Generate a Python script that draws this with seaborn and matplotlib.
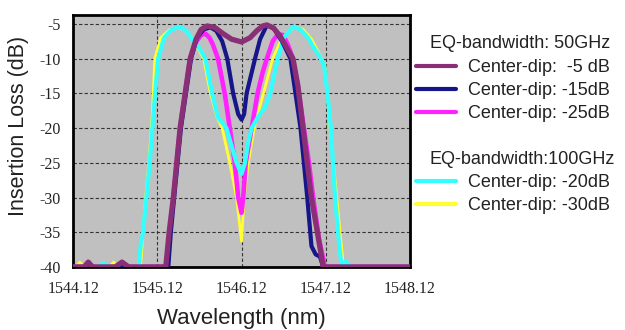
# Einfügedämpfung der Filter mit Mittel-Einbruch (50 GHz / 100 GHz)
import pandas as pd
import seaborn as sns
import matplotlib.pyplot as plt
from matplotlib.lines import Line2D

wl_5db = [1544.12, 1544.25, 1544.30, 1544.35, 1544.62, 1544.70, 1544.78, 1545.22, 1545.26, 1545.31,
          1545.35, 1545.39, 1545.45, 1545.51, 1545.58, 1545.64, 1545.71, 1545.80, 1545.90, 1546.00,
          1546.12, 1546.22, 1546.30, 1546.37, 1546.42, 1546.50, 1546.58, 1546.66, 1546.73, 1546.79,
          1546.85, 1546.90, 1546.95, 1547.02, 1547.09, 1548.12]
il_5db = [-40, -40, -39.3, -40, -40, -39.3, -40, -40, -35, -30,
          -25, -20, -15, -10, -7.2, -5.8, -5.3, -5.5, -6.4, -7.2,
          -7.6, -7.0, -6.0, -5.3, -5.15, -5.6, -6.8, -8.5, -10, -14,
          -20, -25, -30, -35, -40, -40]

wl_15db = [1544.12, 1545.25, 1545.28, 1545.32, 1545.36, 1545.40, 1545.46, 1545.52, 1545.59, 1545.67,
           1545.75, 1545.82, 1545.89, 1545.95, 1546.02, 1546.08, 1546.12, 1546.15, 1546.18, 1546.23,
           1546.28, 1546.34, 1546.42, 1546.50, 1546.60, 1546.70, 1546.76, 1546.82, 1546.90, 1546.95,
           1547.00, 1547.05, 1547.09, 1548.12]
il_15db = [-40, -40, -35, -30, -25, -20, -15, -10, -7.0, -5.8,
           -5.5, -6.0, -7.5, -10, -15, -18, -18.8, -18, -15, -12.5,
           -10, -7.2, -5.2, -5.6, -7.5, -10, -15, -20, -30, -37,
           -38.2, -38.5, -40, -40]

wl_25db = [1544.12, 1545.24, 1545.27, 1545.31, 1545.35, 1545.39, 1545.45, 1545.51, 1545.58, 1545.64,
           1545.69, 1545.74, 1545.78, 1545.84, 1545.92, 1545.98, 1546.04, 1546.08, 1546.12, 1546.14,
           1546.17, 1546.24, 1546.31, 1546.37, 1546.42, 1546.49, 1546.55, 1546.61, 1546.67, 1546.73,
           1546.79, 1546.86, 1546.92, 1546.97, 1547.04, 1547.11, 1548.12]
il_25db = [-40, -40, -35, -30, -25, -20, -15, -10, -7.6, -6.6,
           -6.4, -7.0, -8.0, -10, -15, -20, -25, -30, -32.2, -30,
           -25, -20, -15, -12, -10, -7.5, -6.5, -6.6, -8.0, -10,
           -14, -20, -25, -30, -36, -40, -40]

wl_20db = [1544.12, 1544.42, 1544.48, 1544.54, 1544.90, 1544.92, 1544.95, 1544.99, 1545.03, 1545.08,
           1545.13, 1545.20, 1545.29, 1545.39, 1545.48, 1545.56, 1545.62, 1545.69, 1545.77, 1545.84,
           1545.94, 1546.00, 1546.06, 1546.12, 1546.16, 1546.20, 1546.24, 1546.32, 1546.40, 1546.46,
           1546.55, 1546.62, 1546.73, 1546.82, 1546.91, 1546.98, 1547.04, 1547.10, 1547.14, 1547.18,
           1547.23, 1547.28, 1547.31, 1547.35, 1547.38, 1547.42, 1548.12]
il_20db = [-40, -40, -39.4, -40, -40, -37, -35, -30, -25, -17,
           -10, -7.0, -5.8, -5.4, -6.2, -7.8, -8.5, -10, -15, -18.5,
           -20, -22.5, -25, -26.6, -25, -22, -20, -18.3, -17, -15,
           -10, -7.0, -5.4, -5.8, -7.0, -8.5, -9.5, -11, -15, -20,
           -30, -37, -40, -39.2, -39.5, -40, -40]

wl_30db = [1544.12, 1544.16, 1544.20, 1544.25, 1544.55, 1544.60, 1544.65, 1544.92, 1544.95, 1544.98,
           1545.02, 1545.06, 1545.09, 1545.16, 1545.27, 1545.38, 1545.48, 1545.57, 1545.67, 1545.75,
           1545.83, 1545.89, 1545.98, 1546.06, 1546.12, 1546.15, 1546.20, 1546.27, 1546.38, 1546.49,
           1546.60, 1546.75, 1546.85, 1546.95, 1547.03, 1547.11, 1547.17, 1547.25, 1547.33, 1548.12]
il_30db = [-40, -40, -39.3, -40, -40, -39.3, -40, -40, -35, -30,
           -25, -18, -10, -7.0, -5.8, -5.5, -6.2, -7.8, -10, -15,
           -18.5, -20, -25, -30, -36.3, -30, -25, -20, -15, -10,
           -7.0, -5.4, -5.8, -7.2, -9.0, -11, -20, -30, -40, -40]

series_labels = ['Center-dip:  -5 dB', 'Center-dip: -15dB', 'Center-dip: -25dB',
                 'Center-dip: -20dB', 'Center-dip: -30dB']
group_labels = ['EQ-bandwidth: 50GHz', 'EQ-bandwidth:100GHz']
x_ticks = [1544.12, 1545.12, 1546.12, 1547.12, 1548.12]
y_ticks = [-5, -10, -15, -20, -25, -30, -35, -40]

farben = ['#8a2f76', '#16168a', '#ff22ff', '#33ffff', '#ffff33']
breiten = [3.8, 3.0, 3.3, 3.0, 2.0]

sns.set_style("white")
plt.rcParams['font.family'] = ['Liberation Sans', 'DejaVu Sans']

fig = plt.figure(figsize=(6.25, 3.3), dpi=100)
ax = fig.add_axes([0.117, 0.191, 0.539, 0.764])
ax.set_facecolor('#c0c0c0')

daten = [(wl_5db, il_5db), (wl_15db, il_15db), (wl_25db, il_25db), (wl_20db, il_20db), (wl_30db, il_30db)]
# Zeichenreihenfolge: gelb, magenta, cyan, blau, lila
reihenfolge = [4, 2, 3, 1, 0]
for i in reihenfolge:
    wl, il = daten[i]
    df = pd.DataFrame({'wl': wl, 'il': il})
    sns.lineplot(data=df, x='wl', y='il', ax=ax, color=farben[i], lw=breiten[i],
                 sort=False, estimator=None, zorder=3 + reihenfolge.index(i))

ax.set_xlim(1544.12, 1548.12)
ax.set_ylim(-40, -3.7)
ax.set_xticks(x_ticks)
ax.set_xticklabels([f'{t:.2f}' for t in x_ticks], family='Liberation Serif', fontsize=11.5, color='#222222')
ax.set_yticks(y_ticks)
ax.set_yticklabels([str(t) for t in y_ticks], family='Liberation Serif', fontsize=11.5, color='#222222')
ax.tick_params(axis='x', length=0, pad=10)
ax.tick_params(axis='y', length=0, pad=9)
ax.grid(True, color='#333333', linestyle=(0, (3, 2)), linewidth=0.8, zorder=1)
ax.set_axisbelow(True)
for s in ax.spines.values():
    s.set_color('black')
    s.set_linewidth(2)

ax.set_xlabel('Wavelength (nm)', fontsize=16, labelpad=8, color='#222222')
ax.set_ylabel('Insertion Loss (dB)', fontsize=15.5, color='#222222')
ax.yaxis.set_label_coords(-0.13, 0.56)

# Legende mit zwei Gruppen
handles = [Line2D([], [], color=farben[i], lw=3) for i in range(5)]
leg_opts = dict(frameon=False, fontsize=13, handlelength=2.2, handletextpad=0.7,
                labelspacing=0.32, borderpad=0, borderaxespad=0, loc='upper left')
leg1 = fig.legend(handles[:3], series_labels[:3], bbox_to_anchor=(0.6656, 0.82), **leg_opts)
leg2 = fig.legend(handles[3:], series_labels[3:], bbox_to_anchor=(0.6656, 0.472), **leg_opts)
for leg in (leg1, leg2):
    for t in leg.get_texts():
        t.set_color('#222222')
fig.text(0.688, 1 - 43 / 330, group_labels[0], fontsize=13, va='center', color='#222222')
fig.text(0.688, 1 - 159 / 330, group_labels[1], fontsize=13, va='center', color='#222222')

fig.savefig('out.png', dpi=100)
